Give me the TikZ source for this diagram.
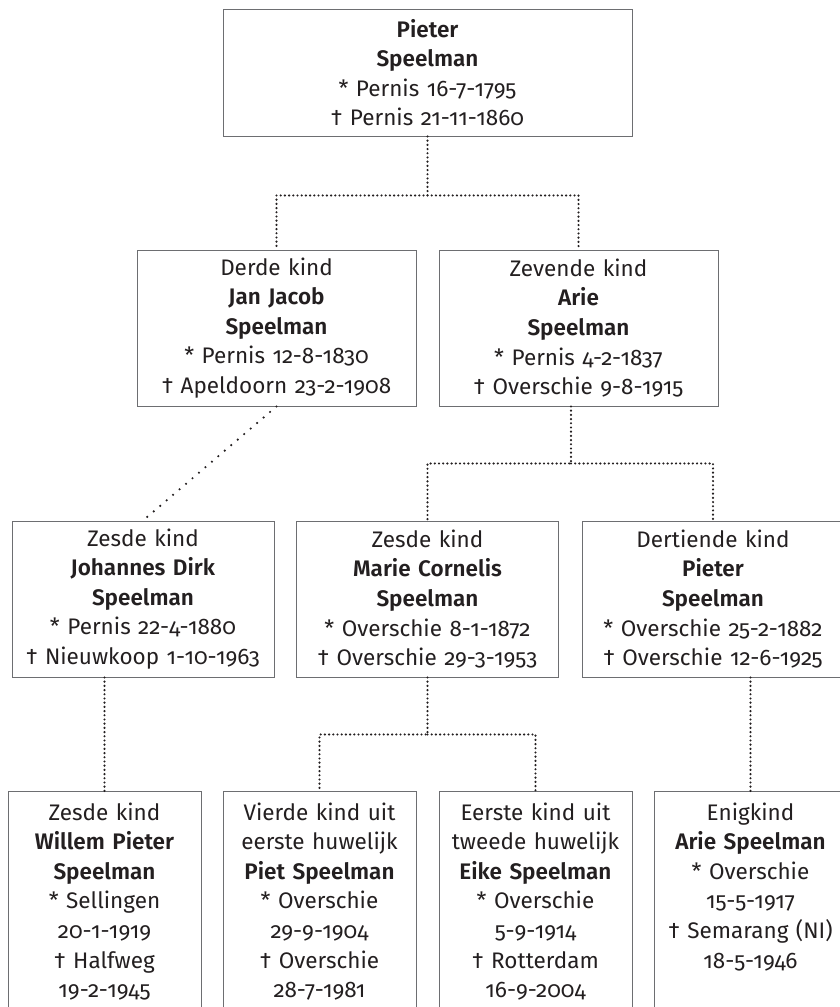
\documentclass[tikz,border=0pt]{standalone}
\usepackage{fontspec}
\setmainfont{Fira Sans}[Numbers=OldStyle, BoldFont=* SemiBold]
\usetikzlibrary{calc}
\definecolor{tekst}{HTML}{231F20}
\definecolor{rand}{HTML}{6D6E71}

\begin{document}
\begin{tikzpicture}[x=1pt, y=-1pt,
 persoon/.style={draw=rand, line width=.9pt, text=tekst, align=center, inner sep=0pt,
   font=\fontsize{22.5}{29.6}\selectfont},
 top/.style={persoon, text width=409pt, minimum height=127pt},
 kind/.style={persoon, text width=279pt, minimum height=156pt},
 kleinkind/.style={persoon, text width=262pt, minimum height=156pt},
 achter/.style={persoon, text width=193pt, anchor=north, inner ysep=11pt, text depth=230pt},
 lijn/.style={tekst, line width=2.4pt, line cap=round, dash pattern=on 0pt off 4.2pt},
 schuin/.style={lijn, dash pattern=on 0pt off 8.5pt}]
\useasboundingbox (0,0) rectangle (839,1007);

\node[top] (pieter) at (427.5,72.5) {\textbf{Pieter}\\\textbf{Speelman}\\{*} Pernis 16-7-1795\\† Pernis 21-11-1860};

\node[kind] (jan) at (276.5,328) {Derde kind\\\textbf{Jan Jacob}\\\textbf{Speelman}\\{*} Pernis 12-8-1830\\† Apeldoorn 23-2-1908};
\node[kind] (arie) at (578.5,328) {Zevende kind\\\textbf{Arie}\\\textbf{Speelman}\\{*} Pernis 4-2-1837\\† Overschie 9-8-1915};

\node[kleinkind] (johannes) at (143,599) {Zesde kind\\\textbf{Johannes Dirk}\\\textbf{Speelman}\\{*} Pernis 22-4-1880\\† Nieuwkoop 1-10-1963};
\node[kleinkind] (marie) at (427.5,599) {Zesde kind\\\textbf{Marie Cornelis}\\\textbf{Speelman}\\{*} Overschie 8-1-1872\\† Overschie 29-3-1953};
\node[kleinkind] (pieterjr) at (713,599) {Dertiende kind\\\textbf{Pieter}\\\textbf{Speelman}\\{*} Overschie 25-2-1882\\† Overschie 12-6-1925};

\node[achter] (willem) at (104.5,791) {Zesde kind\\\textbf{Willem Pieter}\\\textbf{Speelman}\\{*} Sellingen\\20-1-1919\\† Halfweg\\19-2-1945};
\node[achter] (piet) at (319.5,791) {Vierde kind uit\\eerste huwelijk\\\textbf{Piet Speelman}\\{*} Overschie\\29-9-1904\\† Overschie\\28-7-1981};
\node[achter] (eike) at (535.5,791) {Eerste kind uit\\tweede huwelijk\\\textbf{Eike Speelman}\\{*} Overschie\\5-9-1914\\† Rotterdam\\16-9-2004};
\node[achter] (ariejr) at (750.5,791) {Enigkind\\\textbf{Arie Speelman}\\{*} Overschie\\15-5-1917\\† Semarang (NI)\\18-5-1946};

\draw[lijn] (pieter.south) -- ++(0,59) coordinate (k1) -| (jan.north);
\draw[lijn] (k1) -| (arie.north);
\draw[schuin] (jan.south) -- (johannes.north);
\draw[lijn] ([xshift=-7.5pt]arie.south) -- ++(0,57) coordinate (k2) -| (marie.north);
\draw[lijn] (k2) -| (pieterjr.north);
\draw[lijn] (willem.north |- johannes.south) -- (willem.north);
\draw[lijn] (marie.south) -- ++(0,57) coordinate (k3) -| (piet.north);
\draw[lijn] (k3) -| (eike.north);
\draw[lijn] (ariejr.north |- pieterjr.south) -- (ariejr.north);
\end{tikzpicture}
\end{document}
